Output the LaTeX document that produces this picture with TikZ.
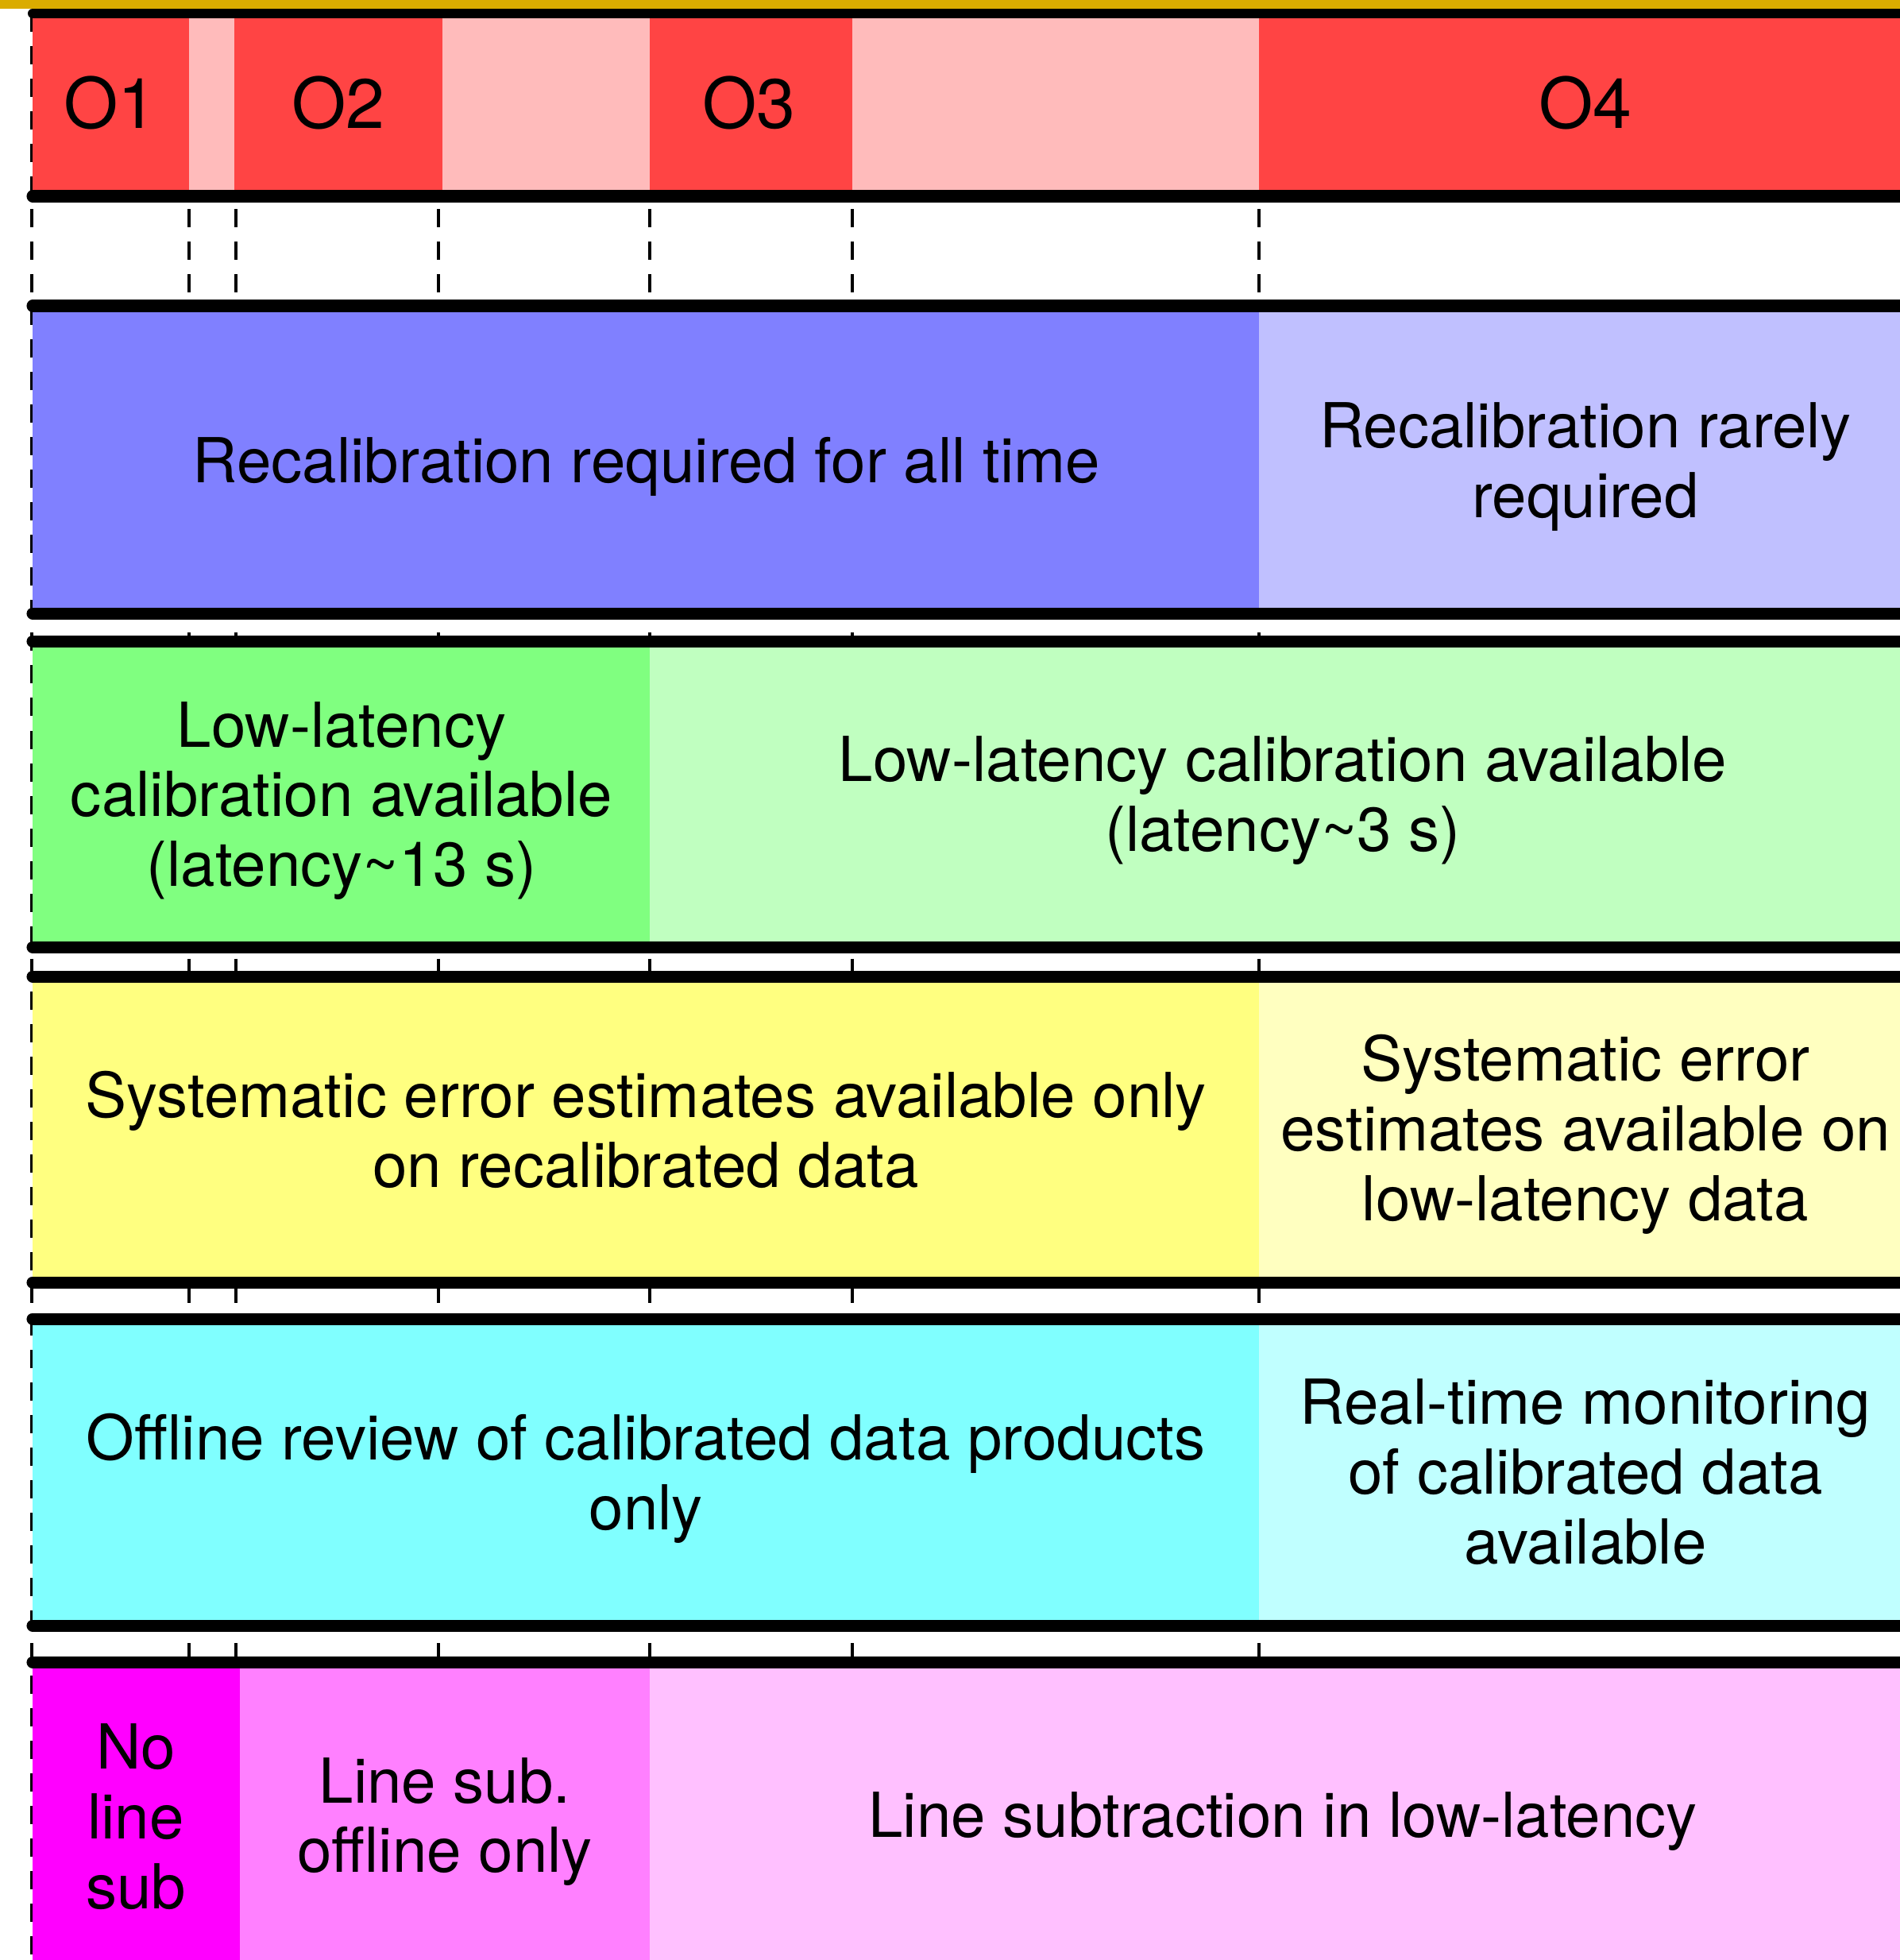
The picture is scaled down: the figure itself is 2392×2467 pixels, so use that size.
\documentclass[tikz,border=0pt]{standalone}
\usepackage{fontspec}
\setmainfont{TeX Gyre Heros}
\usepackage{xcolor}
\usepackage{tikz}

\definecolor{rungold}{RGB}{218,172,0}
\definecolor{runred}{RGB}{255,68,68}
\definecolor{runpink}{RGB}{255,187,187}
\definecolor{calblue}{RGB}{128,128,255}
\definecolor{calblueL}{RGB}{192,192,255}
\definecolor{llgreen}{RGB}{128,255,128}
\definecolor{llgreenL}{RGB}{192,255,192}
\definecolor{syserr}{RGB}{255,255,128}
\definecolor{syserrL}{RGB}{255,255,192}
\definecolor{review}{RGB}{128,255,255}
\definecolor{reviewL}{RGB}{192,255,255}
\definecolor{linesub}{RGB}{255,0,255}
\definecolor{linesubM}{RGB}{255,128,255}
\definecolor{linesubL}{RGB}{255,192,255}

\begin{document}
\begin{tikzpicture}[x=0.01cm,y=-0.01cm,
  bar/.style={line width=0.15cm,line cap=round},
  sep/.style={line width=0.04cm,dash pattern=on 0.23cm off 0.18cm},
  txt/.style={align=center,font=\fontsize{22.2}{25}\selectfont},
  runlbl/.style={font=\fontsize{25}{30}\selectfont}]
\clip (0,0) rectangle (2392,2467);
\fill[white] (0,0) rectangle (2392,2467);

% observing run boundaries
\foreach \xx in {40,238,297,552,818,1073,1585}
  \draw[sep] (\xx,17) -- (\xx,2467);

% runs
\fill[runred] (41,17) rectangle (238,247);
\fill[runpink] (238,17) rectangle (295,247);
\fill[runred] (295,17) rectangle (557,247);
\fill[runpink] (557,17) rectangle (818,247);
\fill[runred] (818,17) rectangle (1073,247);
\fill[runpink] (1073,17) rectangle (1585,247);
\fill[runred] (1585,17) rectangle (2392,247);

% recalibration
\fill[calblue] (41,385) rectangle (1585,772);
\fill[calblueL] (1585,385) rectangle (2392,772);
% low latency
\fill[llgreen] (41,807) rectangle (818,1192);
\fill[llgreenL] (818,807) rectangle (2392,1192);
% systematic error
\fill[syserr] (41,1229) rectangle (1585,1614);
\fill[syserrL] (1585,1229) rectangle (2392,1614);
% monitoring
\fill[review] (41,1660) rectangle (1585,2046);
\fill[reviewL] (1585,1660) rectangle (2392,2046);
% line subtraction
\fill[linesub] (41,2092) rectangle (302,2467);
\fill[linesubM] (302,2092) rectangle (818,2467);
\fill[linesubL] (818,2092) rectangle (2392,2467);

\fill[rungold] (0,0) rectangle (2392,11);
\draw[bar,line width=0.12cm] (41,17) -- (2450,17);
\foreach \yy in {247,385,772,807,1192,1229,1614,1660,2046,2092}
  \draw[bar] (41,\yy) -- (2450,\yy);

\node[runlbl] (o1) at (139,129) {O1};
\node[runlbl] (o2) at (426,129) {O2};
\node[runlbl] (o3) at (943,129) {O3};
\node[runlbl] (o4) at (1996,129) {O4};

\node[txt] (recalall) at (814,587) {Recalibration required for all time};
\node[txt] (recalrare) at (1996,588) {Recalibration rarely\\required};

\node[txt] (lowlat13) at (430,1008) {Low-latency\\calibration available\\(latency\textasciitilde13 s)};
\node[txt] (lowlat3) at (1615,1008) {Low-latency calibration available\\(latency\textasciitilde3 s)};

\node[txt] (sysrecal) at (813,1422) {Systematic error estimates available only\\on recalibrated data};
\node[txt] (syslow) at (1996,1428) {Systematic error\\estimates available on\\low-latency data};

\node[txt] (offline) at (813,1861) {Offline review of calibrated data products\\only};
\node[txt] (realtime) at (1996,1853) {Real-time monitoring\\of calibrated data\\available};

\node[txt] (nosub) at (171,2287) {No\\line\\sub};
\node[txt] (offsub) at (560,2293) {Line sub.\\offline only};
\node[txt] (llsub) at (1615,2293) {Line subtraction in low-latency};
\end{tikzpicture}
\end{document}
